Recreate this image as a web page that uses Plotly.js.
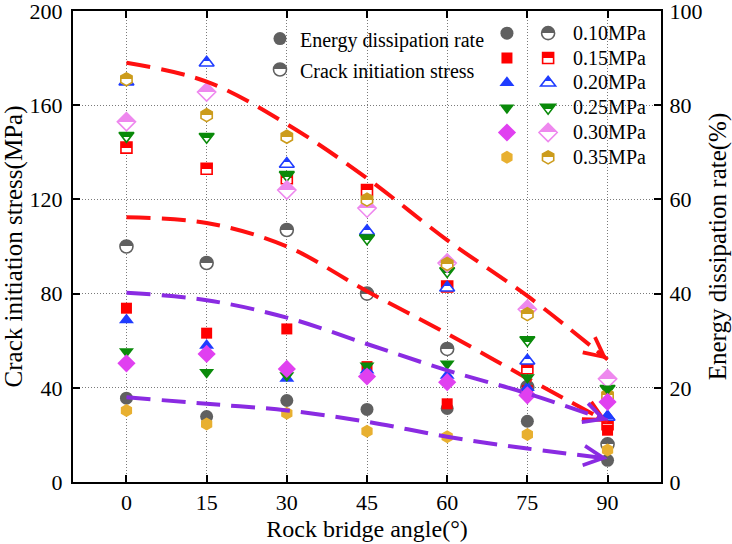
<!DOCTYPE html>
<html>
<head>
<meta charset="utf-8">
<script src="https://cdn.plot.ly/plotly-3.0.1.min.js"></script>
<style>
  html, body { margin: 0; padding: 0; background: #ffffff; }
  #chart { width: 732px; height: 544px; }
</style>
</head>
<body>
<div id="chart"></div>
<script>
// Rock bridge angle (degrees)
const angles = [0, 15, 30, 45, 60, 75, 90];
const pressureLabels = ['0.10MPa', '0.15MPa', '0.20MPa', '0.25MPa', '0.30MPa', '0.35MPa'];

// Energy dissipation rate (%) - right axis, filled markers
const energy010 = [17.8, 13.9, 17.3, 15.4, 15.6, 12.9, 4.6];
const energy015 = [36.9, 31.6, 32.5, 24.5, 16.6, 19.4, 11.0];
const energy020 = [34.4, 29.0, 22.0, 23.7, 22.6, 20.0, 14.0];
const energy025 = [27.7, 23.3, 22.6, 24.7, 25.1, 22.2, 19.8];
const energy030 = [25.2, 27.2, 24.0, 22.4, 21.2, 18.4, 17.0];
const energy035 = [15.2, 12.3, 14.6, 10.8, 9.6, 10.1, 6.8];

// Crack initiation stress (MPa) - left axis, half-filled markers
const stress010 = [100, 93, 107, 80, 56.5, 40.3, 16];
const stress015 = [142, 133, 129, 124, 83, 48.3, 24.5];
const stress020 = [170, 178, 135, 106.5, 82.5, 51.5, 27.6];
const stress025 = [147, 146.6, 130.4, 103.5, 89.6, 60.3, 39.6];
const stress030 = [153, 165.6, 124, 116.3, 93, 73.4, 43.8];
const stress035 = [171, 155.8, 146.6, 119.9, 92.6, 71.3, 36.8];

// Trend guides: stress (MPa) in red, energy (%) in purple
const trendStressHigh = [178, 170, 152, 129, 102.7, 79, 52];
const trendStressLow = [112.4, 110, 100, 81, 63, 44, 25.5];
const trendEnergyHigh = [40.2, 38.6, 34.9, 29.3, 23.7, 18.8, 13.1];
const trendEnergyLow = [18, 16.6, 15.2, 12.8, 9.6, 7.1, 5];

const energySeries = [energy010, energy015, energy020, energy025, energy030, energy035];
const stressSeries = [stress010, stress015, stress020, stress025, stress030, stress035];

const fillColors = ['#606060', '#ff0000', '#1f3cff', '#0a8a0a', '#e040f0', '#e8b030'];
const halfColors = ['#606060', '#ff0000', '#1f3cff', '#0a8a0a', '#ee88ee', '#cc9c1c'];
const symbols = ['circle', 'square', 'triangle-up', 'triangle-down', 'diamond', 'hexagon'];
const sizes = [13, 11, 13, 13, 14, 13];

const RED = '#ff1010';
const PURPLE = '#8a2be2';
const FONT = '"Liberation Serif", "Times New Roman", serif';

function halfMarker(color, symbol, size) {
  return {
    symbol: symbol, size: size, color: color,
    gradient: { type: 'vertical', color: '#ffffff' },
    line: { color: color, width: 1.6 }
  };
}

const traces = [];

// legend with the two measurement kinds
traces.push({
  x: [null], y: [null], type: 'scatter', mode: 'markers',
  name: '<span style="font-size:20px">Energy dissipation rate</span>',
  legend: 'legend', legendrank: 1,
  marker: { symbol: 'circle', size: 13, color: '#606060' }
});
traces.push({
  x: [null], y: [null], type: 'scatter', mode: 'markers',
  name: '<span style="font-size:20px">Crack initiation stress</span>',
  legend: 'legend', legendrank: 2,
  marker: halfMarker('#606060', 'circle', 13)
});

energySeries.forEach((vals, i) => {
  traces.push({
    x: angles, y: vals, yaxis: 'y2', type: 'scatter', mode: 'markers',
    name: '', legend: 'legend2', legendrank: i + 1,
    marker: { symbol: symbols[i], size: sizes[i], color: fillColors[i], line: { width: 0 } }
  });
});

stressSeries.forEach((vals, i) => {
  traces.push({
    x: angles, y: vals, yaxis: 'y', type: 'scatter', mode: 'markers',
    name: '<span style="font-size:20px">\u00a0' + pressureLabels[i] + '</span>',
    legend: 'legend3', legendrank: i + 1,
    marker: halfMarker(halfColors[i], symbols[i], sizes[i])
  });
});

const dashStyle = '24px,11px';
function trendTrace(vals, color, axis) {
  return {
    x: angles, y: vals, yaxis: axis, type: 'scatter', mode: 'lines',
    showlegend: false, hoverinfo: 'skip',
    line: { color: color, width: 4, dash: dashStyle, shape: 'spline', smoothing: 1 }
  };
}
traces.push(trendTrace(trendStressHigh, RED, 'y'));
traces.push(trendTrace(trendStressLow, RED, 'y'));
traces.push(trendTrace(trendEnergyHigh, PURPLE, 'y2'));
traces.push(trendTrace(trendEnergyLow, PURPLE, 'y2'));

// arrowheads at the end of each trend guide, aligned with its last segment
function arrowFor(vals, color, yref) {
  const n = angles.length;
  const x1 = angles[n - 1], y1 = vals[n - 1];
  const x0 = angles[n - 2], y0 = vals[n - 2];
  const t = 0.15;
  return {
    x: x1, y: y1, xref: 'x', yref: yref,
    ax: x1 - (x1 - x0) * t, ay: y1 - (y1 - y0) * t, axref: 'x', ayref: yref,
    text: '', showarrow: true, arrowhead: 5, arrowsize: 1.1, arrowwidth: 3.5,
    arrowcolor: color, standoff: 0
  };
}

const axisCommon = {
  showline: true, linecolor: '#000', linewidth: 2,
  ticks: 'inside', ticklen: 7, tickwidth: 2, tickcolor: '#000',
  zeroline: false, ticklabeloverflow: 'allow',
  tickfont: { family: FONT, size: 22, color: '#000' }
};

const layout = {
  width: 732, height: 544,
  margin: { l: 73, r: 71, t: 11, b: 62 },
  paper_bgcolor: '#ffffff', plot_bgcolor: '#ffffff',
  font: { family: FONT, color: '#000' },
  xaxis: Object.assign({}, axisCommon, {
    range: [-10, 100], tickvals: angles, mirror: 'ticks',
    showgrid: true, gridcolor: '#7a7a7a', gridwidth: 1, griddash: '1px,2px',
    title: { text: 'Rock bridge angle(°)', font: { family: FONT, size: 24 }, standoff: 6 }
  }),
  yaxis: Object.assign({}, axisCommon, {
    range: [0, 200], dtick: 40, mirror: true, ticklabelstandoff: 4,
    showgrid: true, gridcolor: '#7a7a7a', gridwidth: 1, griddash: '1px,2px',
    title: { text: 'Crack initiation stress(MPa)', font: { family: FONT, size: 25 }, standoff: 4 }
  }),
  yaxis2: Object.assign({}, axisCommon, {
    range: [0, 100], dtick: 20, overlaying: 'y', side: 'right',
    showgrid: false, ticklabelstandoff: 2,
    title: { text: 'Energy dissipation rate(%)', font: { family: FONT, size: 25 }, standoff: 14 }
  }),
  legend: {
    x: 0.318, y: 0.985, xanchor: 'left', yanchor: 'top',
    bgcolor: 'rgba(0,0,0,0)', borderwidth: 0,
    font: { family: FONT, size: 21.5, color: '#000' }
  },
  legend2: {
    x: 0.704, y: 0.99, xanchor: 'left', yanchor: 'top',
    bgcolor: 'rgba(0,0,0,0)', borderwidth: 0,
    font: { family: FONT, size: 16.8, color: '#000' }
  },
  legend3: {
    x: 0.774, y: 0.99, xanchor: 'left', yanchor: 'top',
    bgcolor: 'rgba(0,0,0,0)', borderwidth: 0,
    font: { family: FONT, size: 16.8, color: '#000' }
  },
  annotations: [
    arrowFor(trendStressHigh, RED, 'y'),
    arrowFor(trendStressLow, RED, 'y'),
    arrowFor(trendEnergyHigh, PURPLE, 'y2'),
    arrowFor(trendEnergyLow, PURPLE, 'y2')
  ],
  showlegend: true
};

const gd = document.getElementById('chart');
Plotly.newPlot(gd, traces, layout, { staticPlot: true, displayModeBar: false }).then(() => {
  // split the vertical marker gradients into a sharp upper/lower half
  gd.querySelectorAll('linearGradient stop').forEach(s => s.setAttribute('offset', '50%'));
});
</script>
</body>
</html>
